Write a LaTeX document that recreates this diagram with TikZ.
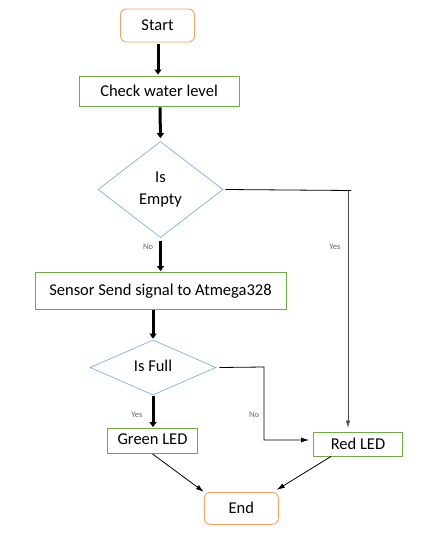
\documentclass[tikz,border=0pt]{standalone}
\usepackage{fontspec}
\setmainfont{Carlito}
\usetikzlibrary{shapes.geometric,arrows.meta}
\definecolor{orng}{HTML}{F4A46A}
\definecolor{grn}{HTML}{70AD47}
\definecolor{blu}{HTML}{7EB0E0}
\tikzset{
  termbox/.style={draw=orng,line width=0.9pt,rounded corners=6pt,fill=white,inner sep=0pt,font=\fontsize{16.5}{19}\selectfont},
  procbox/.style={draw=grn,line width=0.9pt,fill=white,inner sep=0pt,font=\fontsize{16.5}{19}\selectfont},
  decbox/.style={draw=blu,line width=0.7pt,diamond,inner sep=0pt,font=\fontsize{16.5}{19}\selectfont,align=center},
  thickarrow/.style={line width=3pt,-{Triangle[length=5pt,width=7pt]}},
  thinarrow/.style={line width=0.8pt,-{Latex[length=8pt,width=5pt]}},
  lbl/.style={font=\fontsize{8.5}{10}\selectfont,text=black!60}
}
\begin{document}
\begin{tikzpicture}[x=1pt,y=-1pt]
\useasboundingbox (0,0) rectangle (422,552);
\node[termbox,minimum width=74pt,minimum height=33pt] (start) at (157.5,25.5) {Start};
\node[procbox,minimum width=160pt,minimum height=30pt] (check) at (159,91) {Check water level};
\node[decbox,minimum width=125pt,minimum height=96pt] (d1) at (160.5,189.5) {Is\\[3pt]Empty};
\node[procbox,minimum width=251pt,minimum height=37pt] (sensor) at (160.5,291) {Sensor Send signal to Atmega328};
\node[decbox,minimum width=126pt,minimum height=55pt] (d2) at (153,367.5) {\raisebox{3pt}{Is Full}};
\node[procbox,minimum width=90pt,minimum height=25pt] (green) at (152.5,441) {\raisebox{3pt}{Green LED}};
\node[procbox,minimum width=89pt,minimum height=24pt] (red) at (358,444) {Red LED};
\node[termbox,minimum width=74pt,minimum height=32pt] (end) at (241.3,508.3) {End};
\coordinate (yc) at (348,190.5);
\coordinate (nc1) at (264,367);
\coordinate (nc2) at (264,440);

\draw[thickarrow,shorten <=2pt,shorten >=1pt] (start.south -| 158,0) -- (check.north -| 158,0);
\draw[thickarrow,shorten <=1pt,shorten >=3pt] (check.south -| 160,0) -- (d1.north);
\draw[thickarrow,shorten <=3pt,shorten >=1pt] (d1.south) -- (sensor.north -| d1.south);
\draw[thickarrow,shorten >=1pt] (sensor.south -| d2.north) -- (d2.north);
\draw[thickarrow,shorten <=1pt,shorten >=1pt] (d2.south) -- (green.north -| d2.south);
\draw[line width=0.8pt] (d1.east) ++(2pt,0) -- (351,190.5);
\draw[line width=0.7pt,draw=black!70,-{Latex[length=7pt,width=4.5pt]},shorten >=4pt] (yc) -- (red.north -| yc);
\draw[thinarrow] (d2.east) ++(3pt,0) -- (nc1) -- (nc2) -- ++(45pt,0);
\draw[thinarrow] (green.south) -- (end.north west);
\draw[thinarrow] (red.south west) ++(18pt,0) -- ([xshift=-2pt,yshift=2pt]end.north east);
\node[lbl] (yes1) at (335,247) {Yes};
\node[lbl] (no1) at (148,247) {No};
\node[lbl] (yes2) at (137,415) {Yes};
\node[lbl] (no2) at (254,415) {No};
\end{tikzpicture}
\end{document}
